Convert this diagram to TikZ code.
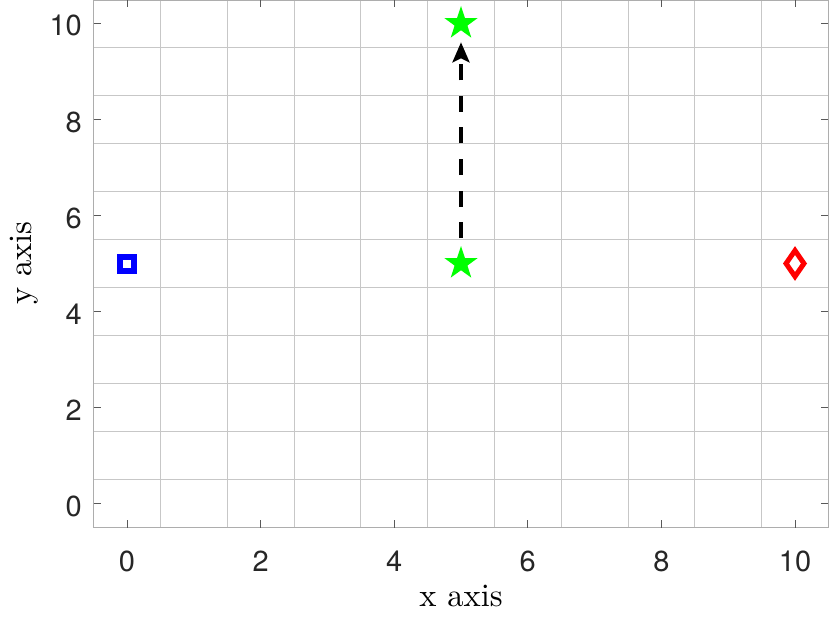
\documentclass[tikz,border=0pt]{standalone}
\usepackage{fontspec}
\newfontfamily\ticksf{TeX Gyre Heros}
\newfontfamily\labfont{lmroman10-regular}[Extension=.otf]
\usetikzlibrary{shapes.geometric,arrows.meta}
\definecolor{mgreen}{RGB}{0,255,0}
\definecolor{tickgray}{gray}{0.15}
\tikzset{
  gridline/.style={draw=black!22, line width=1pt},
  boxline/.style={draw=black!32, line width=1.1pt},
  tickmark/.style={draw=black!65, line width=1pt},
  ticklab/.style={text=tickgray, font=\ticksf\fontsize{29}{34}\selectfont, inner sep=0pt},
  axlab/.style={font=\labfont\fontsize{32.5}{38}\selectfont, inner sep=0pt},
  starmark/.style={star, star points=5, star point ratio=2.6, fill=mgreen, draw=none, minimum size=35pt, inner sep=0pt},
  sqmark/.style={rectangle, draw=blue, line width=6pt, minimum size=14pt, inner sep=0pt},
  dimark/.style={diamond, draw=red, line width=5pt, minimum width=20pt, minimum height=28pt, inner sep=0pt},
  moveline/.style={line width=3.6pt, dash pattern=on 16pt off 15.5pt, -{Stealth[length=20pt, width=17pt, inset=4pt]}},
}
\begin{document}
\begin{tikzpicture}[x=1pt, y=-1pt]
\useasboundingbox (0,0) rectangle (830,623);
% grid at half units
\foreach \k in {0,...,9} {
  \pgfmathsetmacro{\gx}{127+66.8*(\k+0.5)}
  \pgfmathsetmacro{\gy}{503.5-48.0*(\k+0.5)}
  \draw[gridline] (\gx,0) -- (\gx,527.5);
  \draw[gridline] (93.6,\gy) -- (828.4,\gy);
}
% box
\draw[boxline] (93.6,0) rectangle (828.4,527.5);
% ticks and labels
\foreach \d in {0,2,...,10} {
  \pgfmathsetmacro{\tx}{127+66.8*\d}
  \pgfmathsetmacro{\ty}{503.5-48.0*\d}
  \draw[tickmark] (\tx,527.5) -- (\tx,520);
  \draw[tickmark] (\tx,0) -- (\tx,7.5);
  \draw[tickmark] (93.6,\ty) -- (101.1,\ty);
  \draw[tickmark] (828.4,\ty) -- (820.9,\ty);
  \node[ticklab, anchor=base] (xt\d) at (\tx,571) {\d};
  \node[ticklab, anchor=base east] (yt\d) at (82,\ty+12.5) {\d};
}
% axis labels
\node[axlab, anchor=base] (xlab) at (461,606) {x axis};
\node[axlab, anchor=base, rotate=90] (ylab) at (31,263) {y axis};
% markers
\node[sqmark] (sq) at (127,263.5) {};
\node[dimark] (di) at (795,263.5) {};
\node[starmark] (s1) at (461,263.5) {};
\node[starmark] (s2) at (461,23.5) {};
% motion arrow
\draw[moveline, shorten <=25.5pt, shorten >=18.8pt] (s1.center) -- (s2.center);
\end{tikzpicture}
\end{document}
